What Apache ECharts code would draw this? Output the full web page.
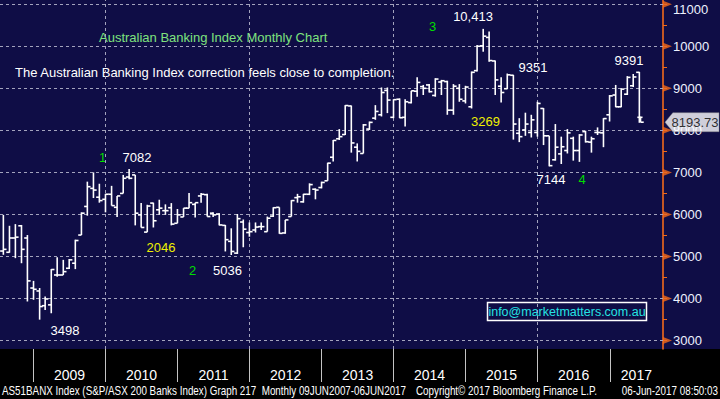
<!DOCTYPE html>
<html>
<head>
<meta charset="utf-8">
<script src="https://cdn.jsdelivr.net/npm/echarts@6/dist/echarts.min.js"></script>
<style>
  html, body { margin: 0; padding: 0; background: #000; }
  #chart { width: 720px; height: 399px; }
</style>
</head>
<body>
<div id="chart"></div>
<script>
// S&P/ASX 200 Banks Index, monthly bars Jul 2008 - Jun 2017
const firstYear = 2008;
const firstMonth = 6; // July, 0-based
const lastBarDate = Date.UTC(2017, 5, 6); // current month is plotted at the print date

const opens = [
  5130, 5100, 5440, 5730, 5440, 4250,
  4180, 3830, 3850, 4560, 4560, 4720, 4840, 5510, 6190, 6620, 6410, 6360,
  6480, 6170, 6500, 6890, 6940, 5990, 5580, 6270, 6110, 6090, 6160, 5790,
  5940, 6150, 6240, 6440, 6470, 6030, 6010, 5740, 5360, 5080, 5820, 5570,
  5630, 5710, 5590, 5960, 6170, 5560, 5950, 6400, 6300, 6480, 6600, 6640,
  6800, 7360, 7800, 7900, 8580, 7600, 7450, 8030, 8290, 8370, 8950, 8310,
  8740, 8310, 8660, 8930, 9040, 9080, 8830, 9150, 9160, 8480, 9000, 8700,
  8560, 9420, 10010, 10210, 9650, 9050, 8990, 9310, 7930, 8010, 7950, 7950,
  8520, 7870, 7300, 7440, 7520, 7810, 7520, 7970, 7720, 7950, 7940, 8370,
  8840, 8560, 8860, 9060, 9380, 8310
];
const highs = [
  5990, 5730, 5770, 5750, 5510, 4420,
  4250, 4050, 4700, 4980, 4920, 4940, 5400, 6050, 6780, 7000, 6730, 6490,
  6680, 6440, 6940, 7082, 6940, 6270, 6230, 6280, 6350, 6240, 6270, 6130,
  6150, 6510, 6280, 6510, 6490, 6050, 6030, 5750, 5670, 6010, 5880, 5810,
  5810, 5810, 5950, 6170, 6170, 5870, 6340, 6490, 6490, 6740, 6620, 6780,
  7230, 7770, 8030, 8600, 8590, 7690, 8150, 8210, 8600, 9020, 9020, 8740,
  8760, 8740, 8940, 9260, 9080, 9100, 9240, 9200, 9180, 9100, 9100, 9060,
  9400, 10030, 10413, 10350, 9660, 9260, 9351, 9320, 8290, 8420, 8370, 8680,
  8530, 7870, 8150, 7850, 8030, 7850, 7910, 7990, 7850, 8070, 8290, 8840,
  9080, 9000, 9290, 9340, 9391, 8320
];
const lows = [
  5040, 5090, 4960, 4840, 3930, 3970,
  3498, 3730, 3650, 4520, 4560, 4700, 4700, 5510, 5970, 6390, 6280, 6050,
  6210, 5940, 6500, 6840, 5740, 5690, 5580, 5690, 5990, 5990, 5740, 5790,
  5940, 6150, 5930, 6280, 5950, 5940, 5740, 5120, 5036, 5060, 5220, 5470,
  5570, 5630, 5590, 5940, 5540, 5540, 5950, 6280, 6280, 6460, 6360, 6620,
  6800, 7260, 7770, 7890, 7470, 7260, 7450, 8010, 8250, 8330, 8410, 8290,
  8290, 8090, 8640, 8800, 8840, 8900, 8800, 8840, 8370, 8370, 8680, 8640,
  8520, 9400, 9870, 9630, 8840, 8660, 8980, 7780, 7720, 7870, 7830, 7850,
  7650, 7144, 7280, 7200, 7450, 7280, 7250, 7710, 7470, 7890, 7600, 8210,
  8550, 8550, 8840, 9030, 8180, 8190
];
const closes = [
  5170, 5440, 5460, 5170, 4420, 4220,
  3810, 3990, 4690, 4560, 4640, 4920, 5380, 6030, 6660, 6580, 6330, 6480,
  6210, 6440, 6860, 6860, 6030, 5690, 6200, 5850, 6150, 6090, 5770, 5990,
  6150, 6280, 6280, 6480, 5950, 5990, 5750, 5400, 5120, 5900, 5650, 5590,
  5700, 5710, 5910, 6160, 5550, 5870, 6330, 6420, 6480, 6710, 6580, 6760,
  7220, 7760, 7850, 8590, 7700, 7500, 8130, 8190, 8450, 8900, 8720, 8730,
  8300, 8680, 8940, 9140, 9000, 8920, 9220, 9180, 8480, 9050, 8740, 9030,
  9380, 10000, 10240, 9660, 9200, 8900, 9320, 8150, 7850, 8150, 8250, 8640,
  7870, 7160, 7600, 7610, 7940, 7520, 7890, 7730, 7800, 7950, 8280, 8820,
  8560, 8980, 9260, 9270, 8310, 8193.73
];
const lastPrice = 8193.73;

const yTicks = [3000, 4000, 5000, 6000, 7000, 8000, 9000, 10000, 11000];
const yMinorTicks = [3000, 3500, 4000, 4500, 5000, 5500, 6000, 6500, 7000, 7500,
  8000, 8500, 9000, 9500, 10000, 10500, 11000];
const yearTicks = [2009, 2010, 2011, 2012, 2013, 2014, 2015, 2016, 2017];
const gridYears = [2010, 2012, 2014, 2016];

const xMin = Date.UTC(2008, 6, 14);
const xMax = Date.UTC(2017, 8, 28);

const NAVY = '#0f0d46';
const ORANGE = '#f26a1b';
const GRID = '#a3a3bd';
const ARIAL = "'Liberation Sans', Arial, sans-serif";

// bars are stamped at month end, Bloomberg style
const barDates = closes.map((_, i) => {
  if (i === closes.length - 1) return lastBarDate;
  const m = firstMonth + i;
  return Date.UTC(firstYear + Math.floor(m / 12), (m % 12) + 1, 0);
});
const bars = closes.map((c, i) => [barDates[i], opens[i], highs[i], lows[i], c]);

// year labels sit in the middle of each year band (2017 in the middle of what is left)
const yearLabelPos = yearTicks.map((y) =>
  y === 2017 ? (Date.UTC(2017, 0, 1) + xMax) / 2 : Date.UTC(y, 6, 2)
);

function renderOhlc(params, api) {
  const t = api.value(0);
  const top = api.coord([t, api.value(2)]);
  const bottom = api.coord([t, api.value(3)]);
  const yo = api.coord([t, api.value(1)])[1];
  const yc = api.coord([t, api.value(4)])[1];
  const x = top[0];
  const st = { stroke: '#ffffff', lineWidth: 1.6 };
  return {
    type: 'group',
    children: [
      { type: 'line', shape: { x1: x, y1: top[1], x2: x, y2: bottom[1] }, style: st },
      { type: 'line', shape: { x1: x - 3.2, y1: yo, x2: x, y2: yo }, style: st },
      { type: 'line', shape: { x1: x, y1: yc, x2: x + 3.2, y2: yc }, style: st },
    ],
  };
}

// free text on the chart: [text, x, y, colour]
const notes = [
  ['1', 102.5, 157, '#00dd00'],
  ['7082', 137, 157, '#ffffff'],
  ['2046', 161, 247, '#f0f000'],
  ['2', 192.5, 270, '#00dd00'],
  ['5036', 227.5, 270, '#ffffff'],
  ['3498', 65, 330, '#ffffff'],
  ['3', 432.5, 26, '#00dd00'],
  ['10,413', 473, 16, '#ffffff'],
  ['9351', 533, 67, '#ffffff'],
  ['3269', 485.5, 121, '#f0f000'],
  ['7144', 551, 179, '#ffffff'],
  ['4', 582, 179, '#00dd00'],
  ['9391', 629, 60, '#ffffff'],
];

function textEl(text, x, y, color, font, align, squeeze) {
  return {
    type: 'text', x: x, y: y, silent: true,
    scaleX: squeeze || 1,
    style: {
      text: text, fill: color, font: font,
      textAlign: align || 'center', textVerticalAlign: 'middle',
      align: align || 'center', verticalAlign: 'middle',
    },
  };
}

const graphics = [
  { type: 'rect', z: -10, silent: true, shape: { x: 0, y: 0, width: 720, height: 349 }, style: { fill: NAVY } },
  textEl('Australian Banking Index Monthly Chart', 99, 37, '#7ee27e', '13px ' + ARIAL, 'left'),
  textEl('The Australian Banking Index correction feels close to completion.', 15, 72, '#ffffff', '13px ' + ARIAL, 'left'),
  ...notes.map((n) => textEl(n[0], n[1], n[2], n[3], '13px ' + ARIAL)),
  { type: 'rect', silent: true, shape: { x: 487.5, y: 302.5, width: 159, height: 18 }, style: { fill: NAVY, stroke: '#ffffff', lineWidth: 1.5 } },
  textEl('info@marketmatters.com.au', 567, 312, '#25e3e3', '12.5px ' + ARIAL),
  // Bloomberg footer uses a narrow face: squeeze Liberation Sans horizontally
  textEl('AS51BANX Index (S&P/ASX 200 Banks Index) Graph 217  Monthly 09JUN2007-06JUN2017', 2, 391, '#ffffff', '12px ' + ARIAL, 'left', 0.82),
  textEl('Copyright\u00a9 2017 Bloomberg Finance L.P.', 416, 391, '#ffffff', '12px ' + ARIAL, 'left', 0.82),
  textEl('06-Jun-2017 08:50:03', 718, 391, '#ffffff', '12px ' + ARIAL, 'right', 0.82),
];

const chart = echarts.init(document.getElementById('chart'), null, { renderer: 'svg' });
chart.setOption({
  animation: false,
  backgroundColor: '#000000',
  grid: { left: 0, right: 57, top: 0, bottom: 50, containLabel: false },
  xAxis: {
    // dates as epoch milliseconds on a plain value axis
    type: 'value',
    min: xMin,
    max: xMax,
    axisLine: { show: false },
    axisTick: {
      show: true,
      customValues: yearTicks.map((y) => Date.UTC(y, 0, 1)),
      length: 33,
      lineStyle: { color: '#c4c4c4', width: 1 },
    },
    axisLabel: {
      customValues: yearLabelPos,
      formatter: (v) => String(new Date(v).getUTCFullYear()),
      color: '#ffffff',
      fontFamily: ARIAL,
      fontSize: 14,
      margin: 19,
    },
    splitLine: { show: false },
  },
  yAxis: {
    type: 'value',
    position: 'right',
    min: 2800,
    max: 11100,
    axisLine: { show: true, lineStyle: { color: ORANGE, width: 1.6 } },
    axisTick: {
      show: true,
      customValues: yMinorTicks,
      length: 4,
      lineStyle: { color: ORANGE, width: 1 },
    },
    axisLabel: {
      customValues: yTicks,
      color: '#eef2ff',
      fontFamily: ARIAL,
      fontSize: 13,
      margin: 10,
      formatter: (v) => (v === 11000 ? '{t|' + v + '}' : String(v)),
      rich: { t: { color: '#eef2ff', fontFamily: ARIAL, fontSize: 13, padding: [10, 0, 0, 0] } },
    },
    splitLine: { show: false },
  },
  graphic: graphics,
  series: [
    {
      type: 'custom',
      name: 'AS51BANX',
      z: 3,
      renderItem: renderOhlc,
      encode: { x: 0, y: [1, 2, 3, 4] },
      data: bars,
      markLine: {
        z: 1,
        silent: true,
        symbol: ['none', 'none'],
        label: { show: false },
        lineStyle: { color: GRID, width: 1, type: [3, 3] },
        data: [
          ...gridYears.map((y) => ({ xAxis: Date.UTC(y, 0, 1) })),
          ...yTicks.map((v) => ({ yAxis: v })),
        ],
      },
    },
    {
      // orange arrow heads on the price axis
      type: 'scatter',
      z: 4,
      silent: true,
      clip: false,
      symbol: 'triangle',
      symbolSize: [7, 9],
      symbolRotate: -90,
      symbolOffset: [4.5, 0],
      itemStyle: { color: ORANGE },
      data: yTicks.map((v) => [xMax, v]),
    },
    {
      // last price tag, sits over the 8000 label like on the terminal
      type: 'scatter',
      z: 5,
      silent: true,
      clip: false,
      symbol: 'path://M0,10L9,0L62,0L62,20L9,20Z',
      symbolSize: [54, 19],
      symbolOffset: [29, 0],
      itemStyle: { color: '#ffffff', borderColor: '#8a8a8a', borderWidth: 0.5 },
      label: {
        show: true,
        position: 'inside',
        formatter: lastPrice.toFixed(2),
        color: '#000000',
        fontFamily: ARIAL,
        fontSize: 13,
        offset: [3, 0],
      },
      data: [[xMax, lastPrice]],
    },
  ],
});
</script>
</body>
</html>
